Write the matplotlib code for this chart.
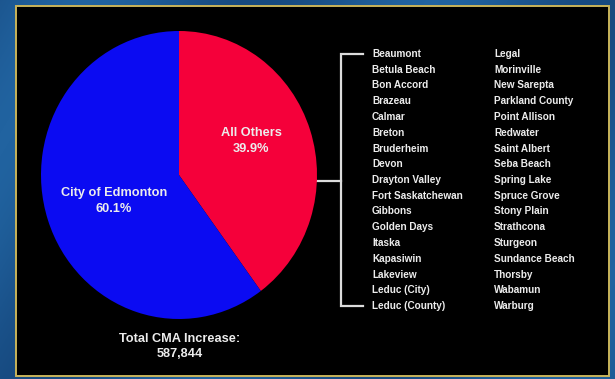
import numpy as np
import matplotlib
matplotlib.use("Agg")
import matplotlib.pyplot as plt
from matplotlib.patches import Rectangle

# Share of CMA population increase
slices = ["All Others", "City of Edmonton"]
shares = [39.9, 60.1]
slice_colors = ["#f5003a", "#0b0bf2"]
total_increase = "587,844"

# Municipalities grouped under "All Others"
others_col1 = ["Beaumont", "Betula Beach", "Bon Accord", "Brazeau", "Calmar",
               "Breton", "Bruderheim", "Devon", "Drayton Valley", "Fort Saskatchewan",
               "Gibbons", "Golden Days", "Itaska", "Kapasiwin", "Lakeview",
               "Leduc (City)", "Leduc (County)"]
others_col2 = ["Legal", "Morinville", "New Sarepta", "Parkland County", "Point Allison",
               "Redwater", "Saint Albert", "Seba Beach", "Spring Lake", "Spruce Grove",
               "Stony Plain", "Strathcona", "Sturgeon", "Sundance Beach", "Thorsby",
               "Wabamun", "Warburg"]

W, H = 615, 379
fig = plt.figure(figsize=(W / 100, H / 100), dpi=100)
fig.patch.set_facecolor("#1c5189")

# Full-figure axes in pixel units for the panel, list and bracket
bg = fig.add_axes([0, 0, 1, 1])
bg.set_xlim(0, W)
bg.set_ylim(H, 0)
bg.axis("off")

# subtle diagonal shading on the blue backdrop
yy, xx = np.mgrid[0:H, 0:W]
shade = 0.5 + 0.5 * np.sin((xx + yy * 0.6) / 55.0)
bg.imshow(shade, cmap=matplotlib.colors.LinearSegmentedColormap.from_list(
    "bgblue", ["#174a80", "#2163a0"]), extent=[0, W, H, 0], aspect="auto", zorder=0)

bg.add_patch(Rectangle((16, 6), 593, 370, facecolor="black",
                       edgecolor="#c9b45a", linewidth=1.4, zorder=1))

font = "Liberation Sans"
txt_color = "#ececec"

# List columns
row0, step = 54, 15.75
for i, (a, b) in enumerate(zip(others_col1, others_col2)):
    y = row0 + i * step
    bg.text(372, y, a, color=txt_color, fontsize=7.2, fontweight="bold",
            family=font, va="center", ha="left", zorder=3)
    bg.text(494, y, b, color=txt_color, fontsize=7.2, fontweight="bold",
            family=font, va="center", ha="left", zorder=3)

# Bracket joining the list to the "All Others" slice
y_top, y_bot = row0, row0 + (len(others_col1) - 1) * step
lc = "#dcdcdc"
bg.plot([363, 341, 341, 363], [y_top, y_top, y_bot, y_bot], color=lc, lw=1.6,
        solid_joinstyle="miter", zorder=3)
bg.plot([316, 341], [181, 181], color=lc, lw=1.6, zorder=3)

bg.text(180, 339, "Total CMA Increase:", color=txt_color, fontsize=9.2,
        fontweight="bold", family=font, ha="center", va="center", zorder=3)
bg.text(180, 354, total_increase, color=txt_color, fontsize=9.2,
        fontweight="bold", family=font, ha="center", va="center", zorder=3)

# Pie axes (slightly taller than wide)
px0, py0, px1, py1 = 41, 31, 317, 319
pax = fig.add_axes([px0 / W, 1 - py1 / H, (px1 - px0) / W, (py1 - py0) / H])
wedges, _ = pax.pie(shares, colors=slice_colors, startangle=90,
                    counterclock=False, radius=1.0,
                    wedgeprops=dict(linewidth=0))
pax.set_aspect("auto")
pax.set_xlim(-1, 1)
pax.set_ylim(-1, 1)
pax.axis("off")

# slice labels, name over percentage (placed in pixel units, drawn above the pie)
label_xy = {"All Others": (251, 133), "City of Edmonton": (114, 193)}
for name, val in zip(slices, shares):
    x, y = label_xy[name]
    pax.text(x, y, name, color=txt_color, fontsize=9.2, fontweight="bold",
             family=font, ha="center", va="center", zorder=5,
             transform=bg.transData, clip_on=False)
    pax.text(x, y + 15.5, f"{val:.1f}%", color=txt_color, fontsize=9.2,
             fontweight="bold", family=font, ha="center", va="center", zorder=5,
             transform=bg.transData, clip_on=False)

fig.savefig("out.png", dpi=100, facecolor=fig.get_facecolor())
